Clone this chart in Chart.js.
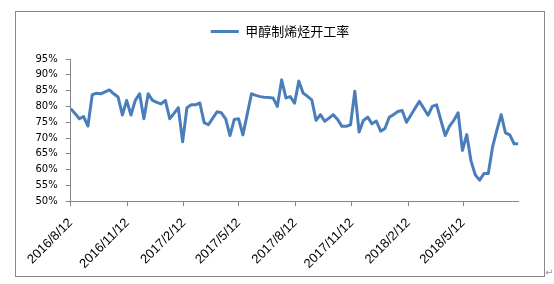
<!DOCTYPE html>
<html>
<head>
<meta charset="utf-8">
<script src="https://cdn.jsdelivr.net/npm/chart.js@4"></script>
<style>
  html, body { margin: 0; padding: 0; background: #ffffff; }
  #frame {
    position: absolute; left: 15px; top: 11px;
    width: 528px; height: 264px;
    border: 1px solid #8a8a8a;
  }
  #chart { display: block; }
  #mark { position: absolute; left: 545px; top: 267px; font: 10px "DejaVu Sans"; color: #999999; }
</style>
</head>
<body>
<div id="frame"><canvas id="chart" width="528" height="264"></canvas></div>
<span id="mark">↵</span>
<script>
// Weekly methanol-to-olefin operating rate, one value per Friday from 2016/8/12.
const SERIES_NAME = '甲醇制烯烃开工率';
const START_DATE = '2016/8/12';
const RATES = [
  79.3, 77.8, 76.1, 76.8, 73.8, 83.7, 84.2, 84.0, 84.6, 85.2,
  84.0, 83.0, 77.3, 81.9, 77.3, 81.9, 84.0, 76.1, 84.0, 81.9,
  81.3, 80.8, 81.9, 76.1, 77.8, 79.6, 68.8, 79.6, 80.5, 80.5,
  81.1, 74.9, 74.2, 76.3, 78.3, 78.0, 76.1, 70.8, 75.9, 76.1,
  71.0, 77.5, 84.0, 83.5, 83.1, 82.9, 82.8, 82.7, 80.0, 88.4,
  82.7, 83.1, 81.0, 88.0, 84.2, 83.2, 82.1, 75.6, 77.4, 75.3,
  76.3, 77.4, 75.9, 73.7, 73.7, 74.2, 84.8, 71.9, 75.6, 76.6,
  74.5, 75.4, 72.2, 73.0, 76.6, 77.4, 78.4, 78.7, 75.0, 77.2,
  79.4, 81.6, 79.4, 77.2, 80.0, 80.5, 75.6, 70.8, 73.8, 75.6,
  78.0, 66.1, 71.1, 62.7, 58.3, 56.7, 58.8, 58.8, 67.2, 72.5,
  77.4, 71.6, 71.0, 68.2, 68.2
];
const X_TICK_LABELS = [
  '2016/8/12', '2016/11/12', '2017/2/12', '2017/5/12',
  '2017/8/12', '2017/11/12', '2018/2/12', '2018/5/12'
];
const Y_MIN = 50;
const Y_MAX = 95;
const Y_STEP = 5;

const LINE_COLOR = '#4A7EBB';
const AXIS_COLOR = '#868686';
const DAY_MS = 86400000;

function toDay(label) {
  const [y, m, d] = label.split('/').map(Number);
  const [y0, m0, d0] = START_DATE.split('/').map(Number);
  return Math.round((Date.UTC(y, m - 1, d) - Date.UTC(y0, m0 - 1, d0)) / DAY_MS);
}

const points = RATES.map((v, i) => ({ x: i * 7, y: v }));
const tickDays = X_TICK_LABELS.map(toDay);

// empty axis strip used only to reserve space
function spacer(axis, position, size) {
  return {
    type: 'linear',
    axis,
    position,
    display: true,
    afterFit: (scale) => {
      if (axis === 'x') scale.height = size; else scale.width = size;
    },
    border: { display: false },
    grid: { display: false },
    ticks: { display: false }
  };
}

new Chart(document.getElementById('chart'), {
  type: 'line',
  data: {
    datasets: [{
      label: SERIES_NAME,
      data: points,
      borderColor: LINE_COLOR,
      backgroundColor: LINE_COLOR,
      borderWidth: 3,
      borderJoinStyle: 'round',
      pointRadius: 0,
      tension: 0
    }]
  },
  options: {
    responsive: false,
    animation: false,
    layout: { padding: 0 },
    plugins: {
      tooltip: { enabled: false },
      legend: {
        position: 'top',
        labels: {
          usePointStyle: true,
          pointStyle: 'line',
          pointStyleWidth: 28,
          boxHeight: 13,
          padding: 13,
          color: '#000000',
          font: { family: '"Noto Sans CJK SC", sans-serif', size: 13 }
        }
      }
    },
    scales: {
      x: {
        type: 'linear',
        min: 0,
        max: (RATES.length - 1) * 7,
        afterBuildTicks: (scale) => { scale.ticks = tickDays.map((v) => ({ value: v })); },
        afterFit: (scale) => { scale.height = 74.7; },
        border: { color: AXIS_COLOR, width: 1 },
        grid: { drawOnChartArea: false, color: AXIS_COLOR, tickLength: 5 },
        ticks: {
          autoSkip: false,
          minRotation: 45,
          maxRotation: 45,
          padding: 9,
          color: '#000000',
          font: { family: '"Liberation Sans", sans-serif', size: 13 },
          callback: (v) => X_TICK_LABELS[tickDays.indexOf(v)]
        }
      },
      y: {
        min: Y_MIN,
        max: Y_MAX,
        afterFit: (scale) => { scale.width = 54.7; },
        border: { color: AXIS_COLOR, width: 1 },
        grid: { drawOnChartArea: false, color: AXIS_COLOR, tickLength: 5 },
        ticks: {
          stepSize: Y_STEP,
          padding: 8,
          color: '#000000',
          font: { family: '"DejaVu Sans", sans-serif', size: 10 },
          callback: (v) => v + '%'
        }
      },
      gapTop: spacer('x', 'top', 11),
      gapRight: spacer('y', 'right', 25.6)
    }
  }
});
</script>
</body>
</html>
